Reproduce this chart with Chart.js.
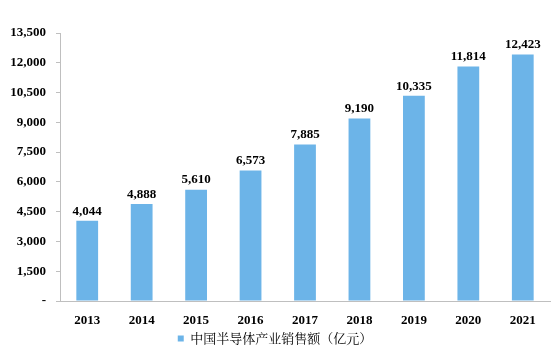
<!DOCTYPE html>
<html>
<head>
<meta charset="utf-8">
<script src="https://cdn.jsdelivr.net/npm/chart.js@4"></script>
<style>
  body { margin: 0; background: #fff; }
  #wrap { width: 559px; height: 358px; }
</style>
</head>
<body>
<div id="wrap"><canvas id="chart"></canvas></div>
<script>
const years = ['2013', '2014', '2015', '2016', '2017', '2018', '2019', '2020', '2021'];
const sales = [4044, 4888, 5610, 6573, 7885, 9190, 10335, 11814, 12423];
const seriesName = '中国半导体产业销售额（亿元）';

const fmt = v => v.toLocaleString('en-US');

// labels on top of each bar
const barLabels = {
    id: 'barLabels',
    afterDatasetsDraw(chart) {
        const ctx = chart.ctx;
        const meta = chart.getDatasetMeta(0);
        ctx.save();
        ctx.font = 'bold 13px "Liberation Serif", serif';
        ctx.fillStyle = '#000';
        ctx.textAlign = 'center';
        ctx.textBaseline = 'bottom';
        meta.data.forEach((bar, i) => {
            ctx.fillText(fmt(sales[i]), bar.x, bar.y - 3);
        });
        ctx.restore();
    }
};

const ctx = document.getElementById('chart').getContext('2d');
new Chart(ctx, {
    type: 'bar',
    data: {
        labels: years,
        datasets: [{
            label: seriesName,
            data: sales,
            backgroundColor: '#6cb4e8',
            categoryPercentage: 0.8,
            barPercentage: 0.5
        }]
    },
    options: {
        responsive: true,
        maintainAspectRatio: false,
        animation: false,
        layout: { padding: { top: 33, right: 9, bottom: 3, left: 0 } },
        scales: {
            x: {
                afterFit(scale) { scale.height = 29; },
                grid: { display: false, drawTicks: false },
                border: { color: '#bfbfbf', width: 1 },
                ticks: {
                    color: '#000',
                    padding: 12,
                    font: { family: '"Liberation Serif", serif', size: 13, weight: 'bold' }
                }
            },
            y: {
                min: 0,
                max: 13500,
                afterFit(scale) { scale.width = 60; },
                grid: { drawOnChartArea: false, tickLength: 4, color: '#bfbfbf' },
                border: { color: '#bfbfbf', width: 1 },
                ticks: {
                    stepSize: 1500,
                    color: '#000',
                    padding: 10,
                    font: { family: '"Liberation Serif", serif', size: 13, weight: 'bold' },
                    callback: v => v === 0 ? '-' : fmt(v)
                }
            }
        },
        plugins: {
            legend: {
                position: 'bottom',
                labels: {
                    color: '#000',
                    boxWidth: 6,
                    boxHeight: 6,
                    padding: 2,
                    font: { family: '"Noto Serif CJK SC", "Noto Sans CJK SC", serif', size: 13 }
                }
            },
            tooltip: { enabled: false }
        }
    },
    plugins: [barLabels]
});
</script>
</body>
</html>
